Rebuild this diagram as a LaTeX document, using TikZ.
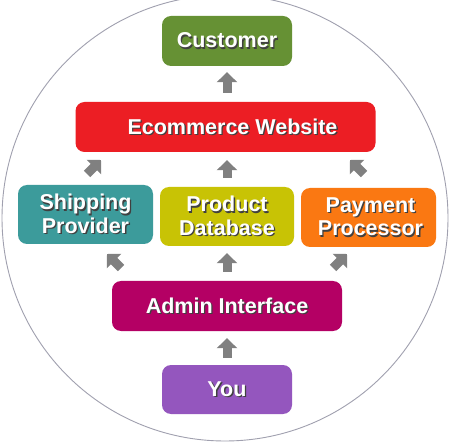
\documentclass[tikz,border=0pt]{standalone}
\usepackage{fontspec}
\setmainfont{Liberation Sans}
\usetikzlibrary{arrows.meta}
\definecolor{cgreen}{RGB}{102,145,52}
\definecolor{cred}{RGB}{236,30,36}
\definecolor{cteal}{RGB}{60,155,155}
\definecolor{colive}{RGB}{200,195,5}
\definecolor{corange}{RGB}{250,120,18}
\definecolor{cmagenta}{RGB}{180,0,100}
\definecolor{cpurple}{RGB}{148,86,190}
\definecolor{carrow}{RGB}{128,128,128}
\definecolor{ccircle}{RGB}{160,160,175}
\newcommand{\shtxt}[1]{\leavevmode\rlap{\raisebox{-1.3pt}{\kern1.3pt\textcolor{black!75}{#1}}}\textcolor{white}{#1}}
\tikzset{
  box/.style={rounded corners=9pt, inner sep=0pt, align=center,
    font=\fontsize{21.5}{23.5}\selectfont\bfseries},
  blk/.style={draw=carrow, line width=9pt, -{Triangle[width=20pt,length=10pt]}}
}
\begin{document}
\begin{tikzpicture}[x=1pt,y=1pt]
\useasboundingbox (0,0) rectangle (450,445);
\clip (0,0) rectangle (450,445);
\fill[white] (0,0) rectangle (450,445);
\draw[ccircle, line width=0.9pt] (225,227) circle (223);

\node[box, fill=cgreen, minimum width=130pt, minimum height=50pt] (cust) at (227,404) {\shtxt{Customer}};
\node[box, fill=cred, minimum width=300pt, minimum height=50pt] (ecom) at (225.5,318) {\hspace*{14pt}\shtxt{Ecommerce Website}};
\node[box, fill=cteal, minimum width=135pt, minimum height=59pt] (ship) at (85.5,230.5) {\shtxt{Shipping}\\\shtxt{Provider}};
\node[box, fill=colive, minimum width=134pt, minimum height=59pt] (prod) at (227,228.5) {\shtxt{Product}\\\shtxt{Database}};
\node[box, fill=corange, minimum width=135pt, minimum height=59pt] (pay) at (368.5,227.5) {\hspace*{4pt}\shtxt{Payment}\\\hspace*{4pt}\shtxt{Processor}};
\node[box, fill=cmagenta, minimum width=230pt, minimum height=50pt] (admin) at (227,139) {\shtxt{Admin Interface}};
\node[box, fill=cpurple, minimum width=130pt, minimum height=49pt] (you) at (227,55.5) {\shtxt{You}};

\coordinate (s1) at (87,271);  \coordinate (t1) at (101,285);
\coordinate (s2) at (364,271); \coordinate (t2) at (350,285);
\coordinate (s3) at (121,177); \coordinate (t3) at (107,191);
\coordinate (s4) at (333,177); \coordinate (t4) at (347,191);

\draw[blk, shorten <=9pt, shorten >=6pt] (cust.south |- ecom.north) -- (cust.south);
\draw[blk, shorten <=9pt, shorten >=8pt] (prod.north) -- (prod.north |- ecom.south);
\draw[blk, shorten <=9pt, shorten >=7pt] (admin.north) -- (prod.south);
\draw[blk, shorten <=7pt, shorten >=7pt] (you.north) -- (admin.south);
\draw[blk] (s1) -- (t1);
\draw[blk] (s2) -- (t2);
\draw[blk] (s3) -- (t3);
\draw[blk] (s4) -- (t4);
\end{tikzpicture}
\end{document}
